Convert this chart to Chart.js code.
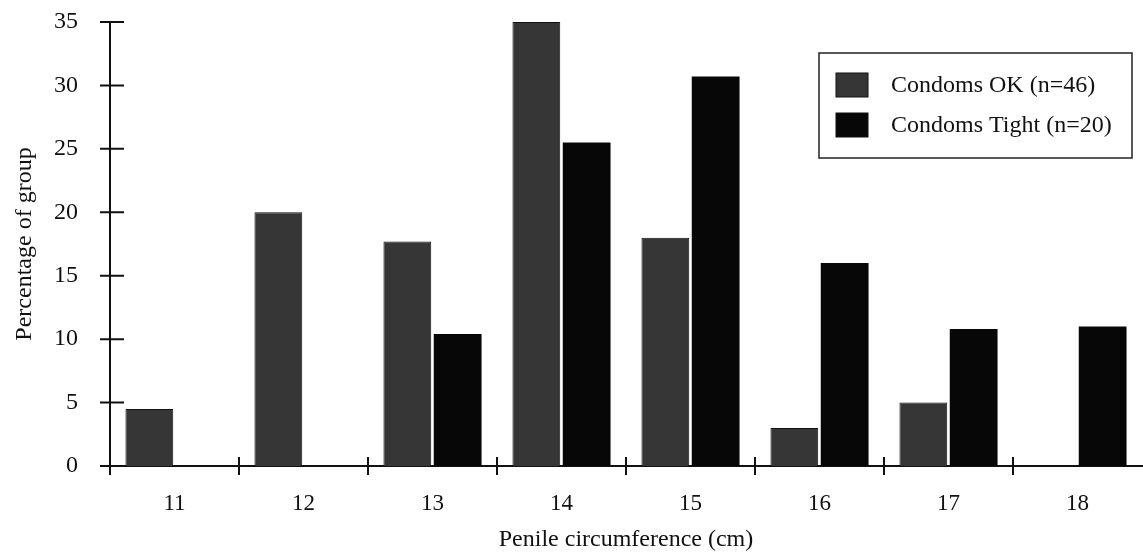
<!DOCTYPE html>
<html>
<head>
<meta charset="utf-8">
<script src="https://cdn.jsdelivr.net/npm/chart.js@4"></script>
<style>
  html, body { margin: 0; padding: 0; background: #fff; }
  #wrap { width: 1143px; height: 560px; }
</style>
</head>
<body>
<div id="wrap"><canvas id="chart"></canvas></div>
<script>
var categories = ['11', '12', '13', '14', '15', '16', '17', '18']
var condomsOk = [4.5, 20, 17.7, 35, 18, 3, 5, 0]
var condomsTight = [0, 0, 10.4, 25.5, 30.7, 16, 10.8, 11]
var yTicks = [0, 5, 10, 15, 20, 25, 30, 35]

var serif = '"Liberation Serif", "DejaVu Serif", serif'

// tick marks that cross the axis lines, like the original figure
var crossTicks = {
  id: 'crossTicks',
  afterDraw: function (chart) {
    var c = chart.ctx
    var x = chart.scales.x
    var y = chart.scales.y
    var area = chart.chartArea
    c.save()
    c.strokeStyle = '#111'
    c.lineWidth = 2
    c.beginPath()
    yTicks.forEach(function (v) {
      var py = y.getPixelForValue(v)
      c.moveTo(area.left - 10, py)
      c.lineTo(area.left + 14, py)
    })
    var half = (x.getPixelForValue(1) - x.getPixelForValue(0)) / 2
    for (var i = 0; i < categories.length; i++) {
      var px = x.getPixelForValue(i) - half
      c.moveTo(px, area.bottom - 9)
      c.lineTo(px, area.bottom + 9)
    }
    c.stroke()
    c.restore()
  }
}

// boxed legend in the upper right
var boxLegend = {
  id: 'boxLegend',
  afterDraw: function (chart) {
    var c = chart.ctx
    var area = chart.chartArea
    var left = area.right - 323
    var top = area.top + 31
    c.save()
    c.strokeStyle = '#222'
    c.lineWidth = 1.5
    c.strokeRect(left, top, 313, 105)
    c.font = '24px ' + serif
    c.textBaseline = 'middle'
    chart.data.datasets.forEach(function (ds, i) {
      var cy = top + 32 + i * 40
      c.fillStyle = ds.backgroundColor
      c.fillRect(left + 17, cy - 12, 32, 24)
      c.strokeStyle = '#111'
      c.lineWidth = 1
      c.strokeRect(left + 17, cy - 12, 32, 24)
      c.fillStyle = '#111'
      c.fillText(ds.label, left + 72, cy + 1)
    })
    c.restore()
  }
}

new Chart(document.getElementById('chart'), {
  type: 'bar',
  data: {
    labels: categories,
    datasets: [
      {
        label: 'Condoms OK (n=46)',
        data: condomsOk,
        backgroundColor: '#363636',
        borderColor: '#111',
        borderWidth: 1
      },
      {
        label: 'Condoms Tight (n=20)',
        data: condomsTight,
        backgroundColor: '#070707',
        borderColor: '#070707',
        borderWidth: 0
      }
    ]
  },
  options: {
    responsive: true,
    maintainAspectRatio: false,
    animation: false,
    layout: { padding: { top: 22, right: 1, left: 10, bottom: 6 } },
    datasets: { bar: { categoryPercentage: 0.78, barPercentage: 0.95 } },
    plugins: {
      legend: { display: false },
      tooltip: { enabled: false }
    },
    scales: {
      x: {
        grid: { display: false },
        border: { display: true, color: '#111', width: 2 },
        ticks: {
          color: '#111',
          padding: 16,
          font: { family: serif, size: 23 },
          maxRotation: 0
        },
        title: {
          display: true,
          text: 'Penile circumference (cm)',
          color: '#111',
          font: { family: serif, size: 24 },
          padding: { top: 4, bottom: 0 }
        },
        afterFit: function (scale) { scale.height = 88 }
      },
      y: {
        min: 0,
        max: 35,
        grid: { display: false, tickLength: 28 },
        border: { display: true, color: '#111', width: 2 },
        ticks: {
          stepSize: 5,
          color: '#111',
          padding: 4,
          font: { family: serif, size: 24 }
        },
        title: {
          display: true,
          text: 'Percentage of group',
          color: '#111',
          font: { family: serif, size: 24 },
          padding: { top: 0, bottom: 6 }
        },
        afterFit: function (scale) { scale.width = 100 }
      }
    }
  },
  plugins: [crossTicks, boxLegend]
})
</script>
</body>
</html>
